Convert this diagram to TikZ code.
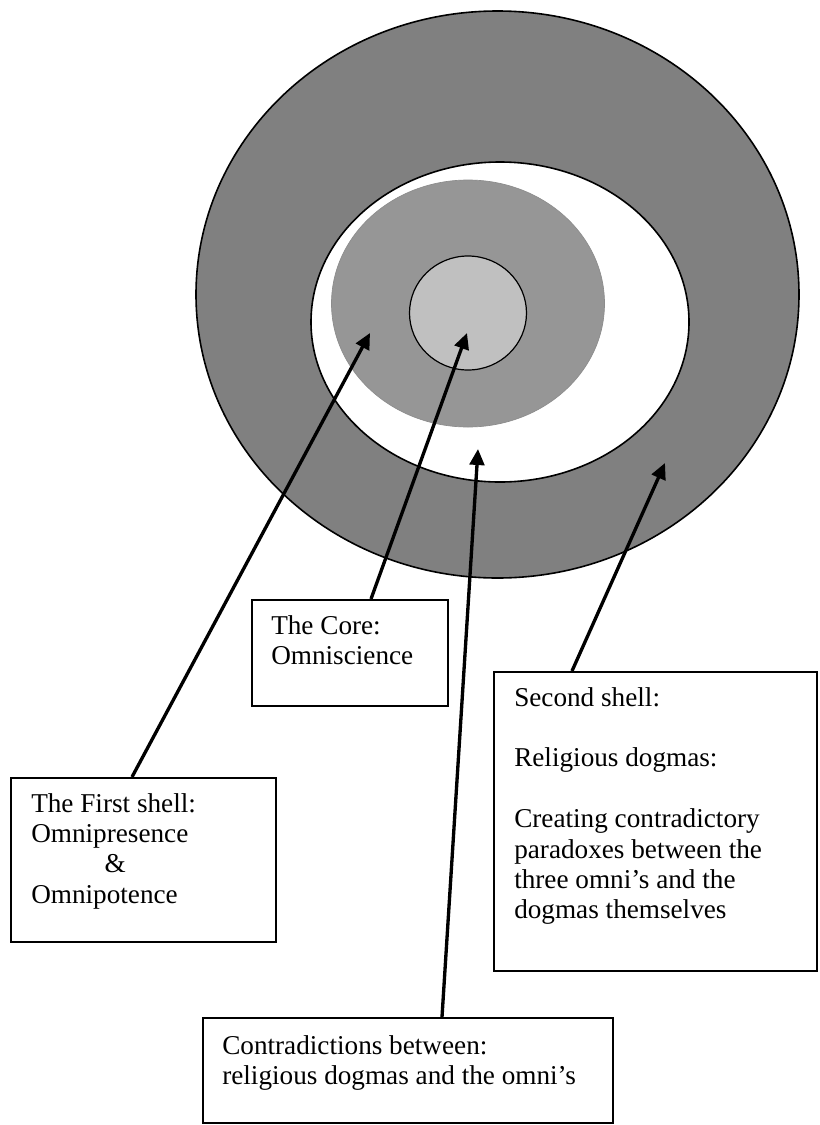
\documentclass[tikz,border=0pt]{standalone}
\usepackage{fontspec}
\setmainfont{Liberation Serif}
\usetikzlibrary{arrows.meta,calc,fit}

\definecolor{outergray}{RGB}{128,128,128}
\definecolor{firstgray}{RGB}{150,150,150}
\definecolor{coregray}{RGB}{192,192,192}

\tikzset{
  shellbox/.style={draw, line width=1.5pt, inner sep=0pt, fill=white},
  boxtext/.style={anchor=north west, inner sep=0pt, align=left,
    font=\fontsize{20.4}{22.8}\selectfont},
  pointer/.style={-{Triangle[length=12pt,width=11pt]}, line width=2.5pt},
}

\begin{document}
\begin{tikzpicture}[x=0.75pt, y=-0.75pt]
  \useasboundingbox (0,0) rectangle (819,1125);

  %=====================================================================
  % the shells
  %=====================================================================
  \draw[fill=outergray, line width=1.2pt] (497.5,294.5) ellipse [x radius=301.5, y radius=283.5];
  \draw[fill=white, line width=1.2pt] (500,322) ellipse [x radius=189, y radius=160];
  \draw[fill=firstgray, draw=black!45, line width=0.5pt] (468,303.5) ellipse [x radius=136.5, y radius=123.5];
  \draw[fill=coregray, line width=0.9pt] (468,313) ellipse [x radius=58.5, y radius=57];

  % where the arrows point
  \coordinate (firsttip) at (370,333);
  \coordinate (coretip) at (467,333);
  \coordinate (contratip) at (478,449);
  \coordinate (secondtip) at (665,463);

  %=====================================================================
  % the boxes
  %=====================================================================
  \node[shellbox, fit={(252,600) (448,706)}] (corebox) {};
  \node[boxtext] (coretext) at ($(corebox.north west)+(20,16)$)
    {The Core:\\Omniscience};

  \node[shellbox, fit={(11,778) (276,942)}] (firstbox) {};
  \node[boxtext] (firsttext) at ($(firstbox.north west)+(21,16)$)
    {The First shell:\\Omnipresence\\\hspace*{55pt}\&\\Omnipotence};

  \node[shellbox, fit={(494,672) (817,971)}] (secondbox) {};
  \node[boxtext] (secondtext) at ($(secondbox.north west)+(21,16)$)
    {Second shell:\\[22.8pt]Religious dogmas:\\[22.8pt]Creating contradictory\\paradoxes between the\\three omni's and the\\dogmas themselves};

  \node[shellbox, fit={(203,1018) (613,1123)}] (contrabox) {};
  \node[boxtext] (contratext) at ($(contrabox.north west)+(20,18)$)
    {Contradictions between:\\religious dogmas and the omni's};

  %=====================================================================
  % arrows
  %=====================================================================
  \draw[pointer] ($(firstbox.north west)+(122,0)$) -- (firsttip);
  \draw[pointer] ($(corebox.north west)+(120,0)$) -- (coretip);
  \draw[pointer] ($(contrabox.north west)+(240,0)$) -- (contratip);
  \draw[pointer] ($(secondbox.north west)+(79,0)$) -- (secondtip);

\end{tikzpicture}
\end{document}
